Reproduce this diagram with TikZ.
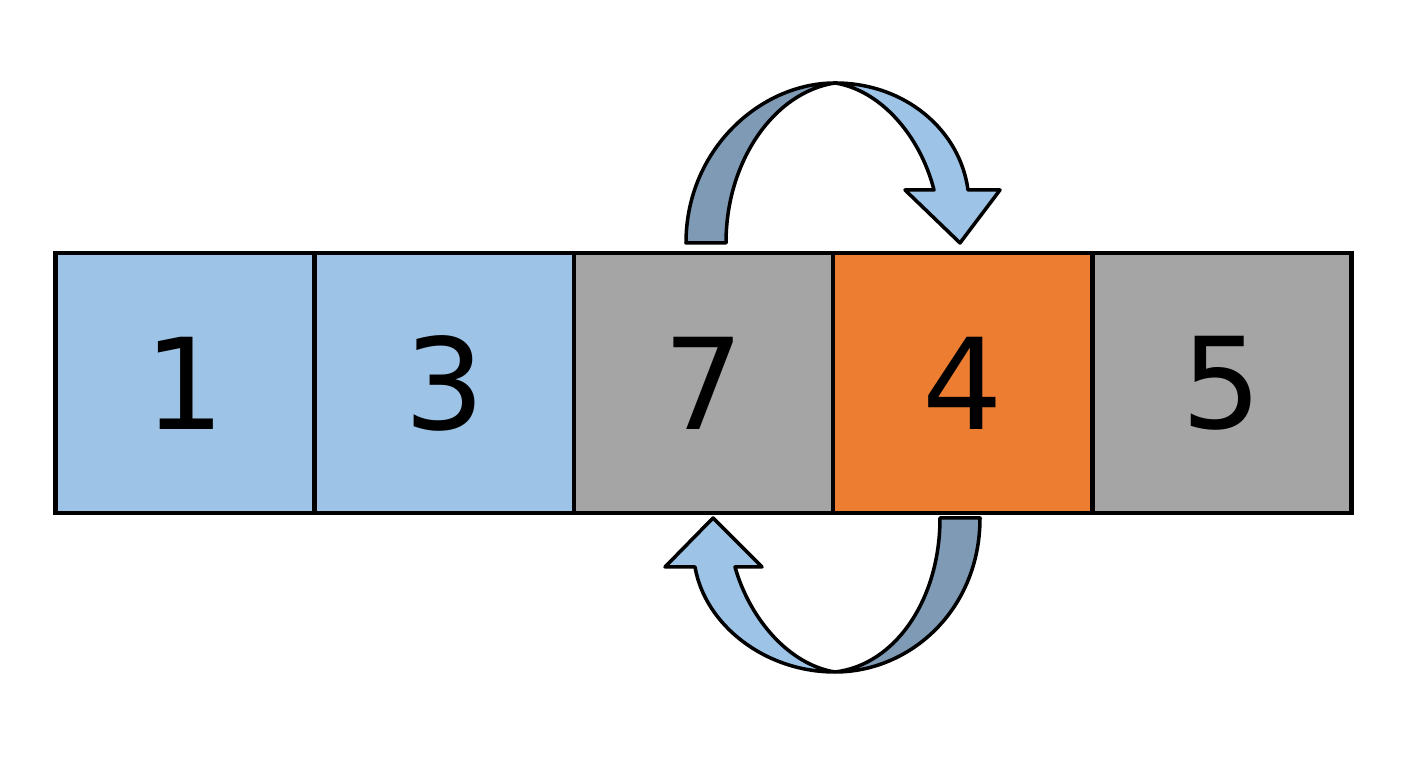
\documentclass[tikz,border=0pt]{standalone}
\usepackage{fontspec}
\setmainfont{DejaVu Sans}
\begin{document}
\begin{tikzpicture}[x=0.01cm,y=-0.01cm,
  cell/.style={draw=black,line width=1.2pt,minimum width=2.59cm,minimum height=2.6cm,inner sep=0pt,font=\fontsize{36}{40}\selectfont},
  dark/.style={fill=arrD,draw=black,line width=1pt,line join=round},
  light/.style={fill=arrL,draw=black,line width=1pt,line join=round}]
\definecolor{cb}{HTML}{9DC3E6}\definecolor{cg}{HTML}{A5A5A5}\definecolor{co}{HTML}{ED7D31}
\definecolor{arrD}{HTML}{7F9AB5}\definecolor{arrL}{HTML}{9DC3E6}
\useasboundingbox (0,0) rectangle (1408,768);
\node[cell,fill=cb] (c1) at (185,383) {1};
\node[cell,fill=cb] (c2) at (444.5,383) {3};
\node[cell,fill=cg] (c3) at (703.5,383) {7};
\node[cell,fill=co] (c4) at (962.5,383) {4};
\node[cell,fill=cg] (c5) at (1222,383) {5};
% top arrow
\path[dark] (686,243) .. controls (686,150) and (760,83) .. (835,83) .. controls (775,92) and (726,160) .. (726,243) -- cycle;
\path[light] (835,83) .. controls (905,83) and (960,130) .. (968,190) -- (1000,190) -- (960,243) -- (905,190) -- (934,190) .. controls (920,135) and (880,90) .. (835,83) -- cycle;
% bottom arrow
\path[dark] (980,518) .. controls (980,610) and (910,672) .. (835,672) .. controls (895,665) and (940,600) .. (940,518) -- cycle;
\path[light] (835,672) .. controls (765,672) and (705,625) .. (695,567) -- (665,567) -- (713,518) -- (762,567) -- (735,567) .. controls (750,620) and (790,665) .. (835,672) -- cycle;
\end{tikzpicture}
\end{document}
